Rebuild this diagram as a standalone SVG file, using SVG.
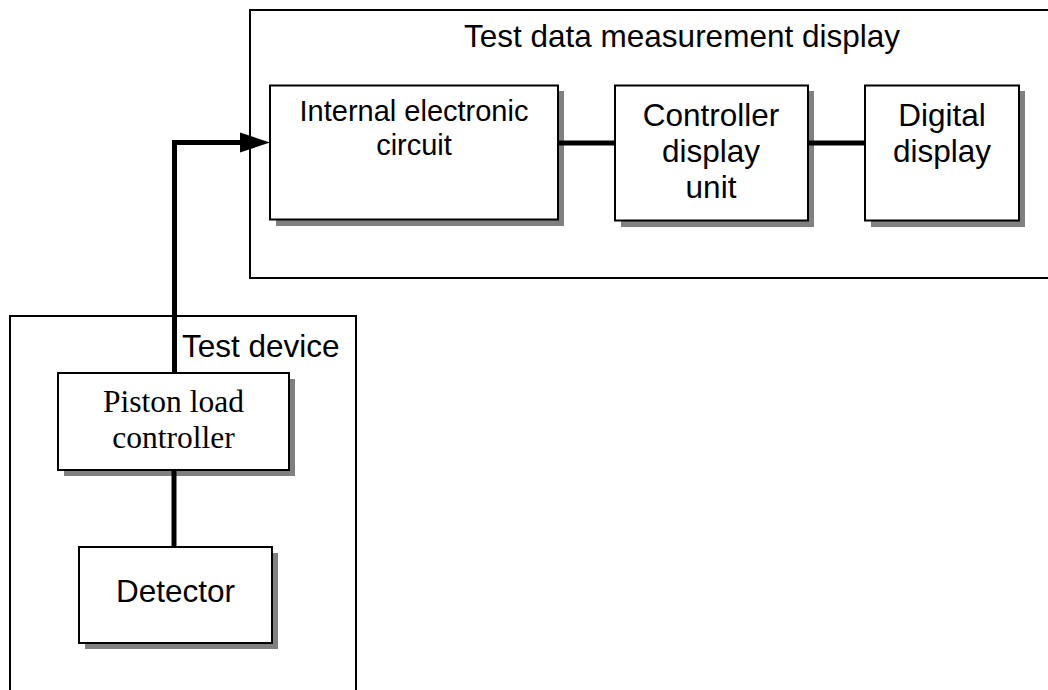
<svg xmlns="http://www.w3.org/2000/svg" width="1048" height="690" viewBox="0 0 1048 690">
<defs>
<style>
.frame{fill:none;stroke:#000;stroke-width:2}
.box{fill:#fff;stroke:#000;stroke-width:2}
.shadow{fill:#808080}
.t{font-family:"Liberation Sans",Arial,sans-serif;font-size:31.5px;fill:#000;text-anchor:middle}
.ts{font-family:"Liberation Serif","Times New Roman",serif;font-size:31.5px;fill:#000;text-anchor:middle}
.wire{fill:none;stroke:#000;stroke-width:5;stroke-linejoin:miter;stroke-linecap:butt}
</style>
</defs>
<rect width="1048" height="690" fill="#fff"/>
<g id="measurement-display">
<rect class="frame" x="250" y="10" width="820" height="268"/>
<text class="t" x="682" y="47">Test data measurement display</text>
</g>
<g id="test-device">
<rect class="frame" x="10" y="316" width="346" height="400"/>
<text class="t" x="182" y="357" style="text-anchor:start">Test device</text>
</g>
<g id="internal-circuit">
<rect class="shadow" x="276" y="91" width="288" height="135"/>
<rect class="box" x="270" y="85.5" width="288" height="134"/>
<text class="t" x="414" y="121" style="font-size:29px">Internal electronic</text>
<text class="t" x="414" y="155" style="font-size:29px">circuit</text>
</g>
<g id="controller-display-unit">
<rect class="shadow" x="621" y="91" width="193" height="136"/>
<rect class="box" x="615" y="85.5" width="193" height="135"/>
<text class="t" x="711" y="126">Controller</text>
<text class="t" x="711" y="162">display</text>
<text class="t" x="711" y="198">unit</text>
</g>
<g id="digital-display">
<rect class="shadow" x="871" y="91" width="154" height="136"/>
<rect class="box" x="865" y="85.5" width="154" height="135"/>
<text class="t" x="942" y="126">Digital</text>
<text class="t" x="942" y="162">display</text>
</g>
<g id="piston-load-controller">
<rect class="shadow" x="64" y="379" width="231" height="97"/>
<rect class="box" x="58" y="373" width="231" height="97"/>
<text class="ts" x="173.5" y="412">Piston load</text>
<text class="ts" x="173.5" y="448">controller</text>
</g>
<g id="detector">
<rect class="shadow" x="85" y="553" width="193" height="96"/>
<rect class="box" x="79" y="547" width="193" height="96"/>
<text class="t" x="175.5" y="602">Detector</text>
</g>
<g id="connectors">
<path class="wire" d="M174.5 373 V142.5 H242"/>
<polygon points="240,132.5 270,142.5 240,152.5" fill="#000"/>
<path class="wire" d="M558 143 H615"/>
<path class="wire" d="M808 143 H865"/>
<path class="wire" d="M174 470 V547"/>
</g>
</svg>
